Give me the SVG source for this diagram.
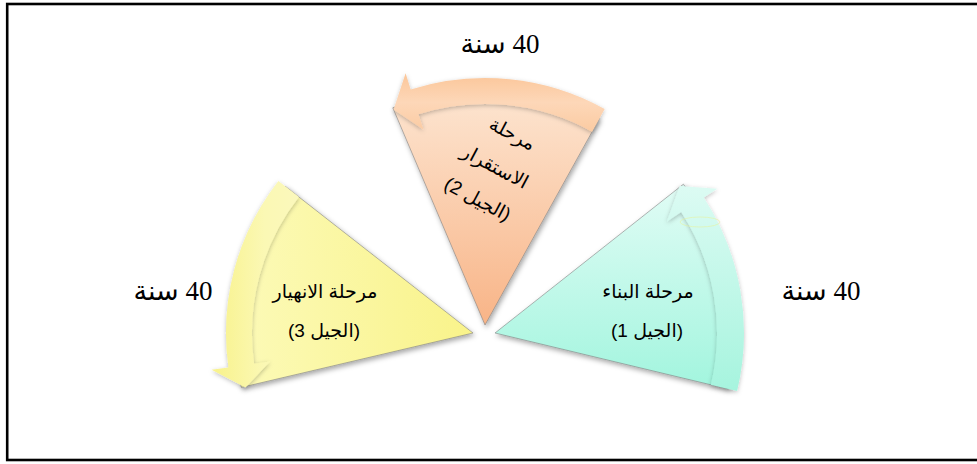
<svg xmlns="http://www.w3.org/2000/svg" width="977" height="464" viewBox="0 0 977 464">
  <style>
    .yr { font-family: "Liberation Serif", "DejaVu Sans", serif; font-size: 27px; fill: #000; }
    .lbl { font-family: "Liberation Sans", "DejaVu Sans", sans-serif; font-size: 19px; fill: #000; }
    .wedge { stroke: #7a7a7a; stroke-width: 0.8; stroke-opacity: 0.7; filter: url(#sh); }
    .band { filter: url(#sh2); }
  </style>
  <defs>
    <filter id="sh" x="-20%" y="-20%" width="140%" height="140%">
      <feDropShadow dx="1.5" dy="2.5" stdDeviation="2.5" flood-color="#000" flood-opacity="0.35"/>
    </filter>
    <filter id="sh2" x="-20%" y="-20%" width="140%" height="140%">
      <feDropShadow dx="0" dy="1.5" stdDeviation="2" flood-color="#000" flood-opacity="0.25"/>
    </filter>
    <linearGradient id="gO" x1="0" y1="0" x2="0" y2="1">
      <stop offset="0" stop-color="#fde6d2"/>
      <stop offset="1" stop-color="#f8b487"/>
    </linearGradient>
    <linearGradient id="gOb" x1="0" y1="0" x2="0" y2="1">
      <stop offset="0" stop-color="#fbc699"/>
      <stop offset="0.5" stop-color="#fdd7b8"/>
      <stop offset="1" stop-color="#fbcba2"/>
    </linearGradient>
    <linearGradient id="gY" x1="0" y1="0" x2="1" y2="0">
      <stop offset="0" stop-color="#fcfab8"/>
      <stop offset="1" stop-color="#f9f38a"/>
    </linearGradient>
    <linearGradient id="gYb" x1="0" y1="0" x2="1" y2="0">
      <stop offset="0" stop-color="#f8f28a"/>
      <stop offset="0.6" stop-color="#fbf8b4"/>
      <stop offset="1" stop-color="#fbf8bc"/>
    </linearGradient>
    <linearGradient id="gT" x1="0" y1="0" x2="0" y2="1">
      <stop offset="0" stop-color="#e1fcf5"/>
      <stop offset="1" stop-color="#a2f5de"/>
    </linearGradient>
    <linearGradient id="gTb" x1="0" y1="0" x2="0" y2="1">
      <stop offset="0" stop-color="#dcfbf3"/>
      <stop offset="1" stop-color="#a6f4de"/>
    </linearGradient>
  </defs>

  <rect x="7.2" y="4" width="980" height="456" fill="#fff" stroke="#000" stroke-width="2.6"/>

  <g id="node-stage2">
    <path class="wedge" fill="url(#gO)" d="M485,325 L392.8,107.8 A236,236 0 0 1 599.4,118.6 Z"/>
    <path class="band" fill="url(#gOb)" d="M604.7,109 A247,247 0 0 0 410.7,89.4 L405.6,73.2 L393.6,109.6 L423.4,129.5 L418.5,114.2 A221,221 0 0 1 592.1,131.7 Z"/>
    <g class="lbl" transform="translate(497,167) rotate(28)" text-anchor="middle" direction="rtl">
      <text x="-2" y="-30">مرحلة</text>
      <text x="-2" y="7">الاستقرار</text>
      <text x="-2" y="44">(الجيل 2)</text>
    </g>
  </g>

  <g id="node-stage3">
    <path class="wedge" fill="url(#gY)" d="M473,333 L241.3,387.4 A238,238 0 0 1 285.5,186.5 Z"/>
    <path class="band" fill="url(#gYb)" d="M278.4,180.9 A247,247 0 0 0 228.4,367.4 L211.6,369.7 L245.5,387.6 L270,361.5 L254.1,363.8 A221,221 0 0 1 298.9,196.9 Z"/>
    <text class="lbl" x="325" y="298" text-anchor="middle" direction="rtl">مرحلة الانهيار</text>
    <text class="lbl" x="324" y="337" text-anchor="middle" direction="rtl">(الجيل 3)</text>
  </g>

  <g id="node-stage1">
    <path class="wedge" fill="url(#gT)" d="M495,333 L683.4,184.2 A240,240 0 0 1 728.4,389 Z"/>
    <path class="band" fill="url(#gTb)" d="M737.1,391.1 A249,249 0 0 0 703.8,197.4 L717.3,188.7 L679.7,186.1 L666.9,221.4 L681.2,212.1 A222,222 0 0 1 710.9,384.8 Z"/>
    <ellipse cx="700" cy="222" rx="20" ry="5" fill="none" stroke="#e6f29a" stroke-width="0.8" stroke-opacity="0.7"/>
    <text class="lbl" x="648" y="298" text-anchor="middle" direction="rtl">مرحلة البناء</text>
    <text class="lbl" x="647" y="337" text-anchor="middle" direction="rtl">(الجيل 1)</text>
  </g>

  <g id="labels-years">
    <text class="yr" x="500" y="53" text-anchor="middle" direction="rtl">40 سنة</text>
    <text class="yr" x="173" y="300" text-anchor="middle" direction="rtl">40 سنة</text>
    <text class="yr" x="821" y="300" text-anchor="middle" direction="rtl">40 سنة</text>
  </g>

  <g id="connectors"></g>
</svg>
